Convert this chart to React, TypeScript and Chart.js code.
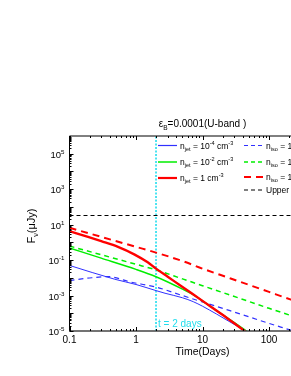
import React, { useEffect, useRef } from 'react';
import { Chart, registerables } from 'chart.js';

Chart.register(...registerables);

// ---------- data ----------
const X_MIN = 0.1;
const X_MAX = 1000;
const Y_MIN = 1e-5;
const Y_MAX = 1e6;

const xTickValues = [0.1, 1, 10, 100];
const xTickLabels = ['0.1', '1', '10', '100'];
const yTickExponents = [5, 3, 1, -1, -3, -5];

const redSolidT = [0.1, 0.19, 0.3, 0.536, 0.955, 1.5, 2, 3, 5, 10, 20, 43, 100];
const redSolidF = [4.3, 2.04, 1.17, 0.557, 0.205, 0.075, 0.033, 0.0115, 3.05e-3, 5.0e-4, 8.3e-5, 1.0e-5, 1.1e-6];

const redDashT = [0.1, 0.3, 1, 2, 5, 10, 25.9, 100, 219, 1000];
const redDashF = [6.6, 2.04, 0.56, 0.265, 0.088, 0.033, 9.5e-3, 1.6e-3, 5.7e-4, 7.9e-5];

const greenSolidT = [0.1, 0.3, 1, 2, 5, 7.3, 10.3, 13, 20, 46, 100];
const greenSolidF = [0.48, 0.129, 0.03, 0.0115, 2.3e-3, 1.08e-3, 4.6e-4, 2.5e-4, 8.5e-5, 1.0e-5, 1.2e-6];

const greenDashT = [0.1, 0.3, 1, 2, 5, 10, 25.9, 100, 219, 1000];
const greenDashF = [0.62, 0.2, 0.058, 0.028, 8.7e-3, 3.6e-3, 1.07e-3, 1.9e-4, 7.2e-5, 1.0e-5];

const blueSolidT = [0.1, 0.48, 1, 2, 2.73, 5, 7.27, 10, 16.3, 25, 43.6, 100];
const blueSolidF = [0.05, 8.3e-3, 4.2e-3, 1.9e-3, 1.35e-3, 7.5e-4, 4.5e-4, 2.5e-4, 9e-5, 3.5e-5, 1.05e-5, 1.5e-6];

const blueDashT = [0.1, 0.2, 0.38, 0.86, 2, 5, 10.9, 25.9, 100, 219, 1000];
const blueDashF = [7e-3, 9.8e-3, 0.0117, 5.6e-3, 3.0e-3, 1.0e-3, 3.9e-4, 1.4e-4, 2.7e-5, 1.07e-5, 1.7e-6];

const upperLimit = 32.7;
const markerDay = 2;

const titleText = '\u03b5_{B}=0.0001(U-band )';
const xTitleText = 'Time(Days)';
const yTitleText = 'F_{\u03bd}(\u03bcJy)';
const markerText = 't = 2 days';

const RED = '#ff0000';
const GREEN = '#00ee00';
const BLUE = '#3030ff';
const CYAN = '#22dded';

const legendLeft = [
  { label: 'n_{jet} = 10^{-4} cm^{-3}', color: BLUE, dash: [] as number[], width: 1.2 },
  { label: 'n_{jet} = 10^{-2} cm^{-3}', color: GREEN, dash: [] as number[], width: 1.5 },
  { label: 'n_{jet} = 1 cm^{-3}', color: RED, dash: [] as number[], width: 2.2 },
];
const legendRight = [
  { label: 'n_{iso} = 10^{-4} cm^{-3}', color: BLUE, dash: [4, 3], width: 1.2 },
  { label: 'n_{iso} = 10^{-2} cm^{-3}', color: GREEN, dash: [4, 3], width: 1.5 },
  { label: 'n_{iso} = 1 cm^{-3}', color: RED, dash: [7, 5], width: 2 },
  { label: 'Upper limit', color: '#000000', dash: [4, 3], width: 1.2 },
];

// ---------- layout ----------
const CANVAS_W = 350;
const CANVAS_H = 376;
const AREA = { left: 69.5, right: 335.5, top: 136, bottom: 331 };
const FONT = '"Liberation Sans", Arial, sans-serif';

type Seg = { t: string; m: 'n' | 'sub' | 'sup' };
function parseRich(s: string): Seg[] {
  const out: Seg[] = [];
  const re = /([_^])\{([^}]*)\}/g;
  let last = 0;
  let m: RegExpExecArray | null;
  while ((m = re.exec(s))) {
    if (m.index > last) out.push({ t: s.slice(last, m.index), m: 'n' });
    out.push({ t: m[2], m: m[1] === '_' ? 'sub' : 'sup' });
    last = re.lastIndex;
  }
  if (last < s.length) out.push({ t: s.slice(last), m: 'n' });
  return out;
}

function richWidth(ctx: CanvasRenderingContext2D, segs: Seg[], size: number) {
  let w = 0;
  for (const s of segs) {
    const fs = s.m === 'n' ? size : size * 0.65;
    ctx.font = `${fs}px ${FONT}`;
    w += ctx.measureText(s.t).width;
  }
  return w;
}

function drawRich(ctx: CanvasRenderingContext2D, x: number, y: number, segs: Seg[], size: number, color: string) {
  let cx = x;
  ctx.fillStyle = color;
  ctx.textBaseline = 'alphabetic';
  ctx.textAlign = 'left';
  for (const s of segs) {
    const fs = s.m === 'n' ? size : size * 0.65;
    const dy = s.m === 'sub' ? size * 0.28 : s.m === 'sup' ? -size * 0.42 : 0;
    ctx.font = `${fs}px ${FONT}`;
    ctx.fillText(s.t, cx, y + dy);
    cx += ctx.measureText(s.t).width;
  }
  return cx - x;
}

const decorPlugin = {
  id: 'decor',
  afterDraw(chart: any) {
    const ctx: CanvasRenderingContext2D = chart.ctx;
    const xs = chart.scales.x;
    const ys = chart.scales.y;
    const { left, right, top, bottom } = chart.chartArea;
    ctx.save();

    // frame
    ctx.strokeStyle = '#000';
    ctx.lineWidth = 1;
    ctx.setLineDash([]);
    ctx.beginPath();
    ctx.moveTo(left, top);
    ctx.lineTo(right, top);
    ctx.moveTo(left, top);
    ctx.lineTo(left, bottom);
    ctx.stroke();
    ctx.strokeStyle = '#444';
    ctx.lineWidth = 1.3;
    ctx.beginPath();
    ctx.moveTo(left, bottom);
    ctx.lineTo(right, bottom);
    ctx.stroke();

    // x ticks (bottom + top, inward)
    ctx.strokeStyle = '#000';
    ctx.lineWidth = 1;
    ctx.beginPath();
    for (let d = -1; d < 3; d++) {
      for (let k = 1; k <= 9; k++) {
        const v = k * Math.pow(10, d);
        if (v < X_MIN || v > X_MAX) continue;
        const px = Math.round(xs.getPixelForValue(v)) + 0.5;
        const len = k === 1 ? 4 : 2;
        ctx.moveTo(px, bottom);
        ctx.lineTo(px, bottom - len);
        ctx.moveTo(px, top);
        ctx.lineTo(px, top + len);
      }
    }
    // y ticks (left, inward)
    for (let d = -5; d < 6; d++) {
      for (let k = 1; k <= 9; k++) {
        const v = k * Math.pow(10, d);
        if (v < Y_MIN || v > Y_MAX) continue;
        const py = Math.round(ys.getPixelForValue(v)) + 0.5;
        const len = k === 1 ? 4 : 2;
        ctx.moveTo(left, py);
        ctx.lineTo(left + len, py);
      }
    }
    ctx.stroke();

    // x tick labels
    ctx.fillStyle = '#000';
    ctx.font = `10px ${FONT}`;
    ctx.textAlign = 'center';
    ctx.textBaseline = 'top';
    xTickValues.forEach((v, i) => {
      ctx.fillText(xTickLabels[i], xs.getPixelForValue(v), bottom + 4);
    });

    // y tick labels
    yTickExponents.forEach((e) => {
      const py = ys.getPixelForValue(Math.pow(10, e));
      const segs: Seg[] = [{ t: '10', m: 'n' }, { t: String(e), m: 'sup' }];
      const w = richWidth(ctx, segs, 9.5);
      drawRich(ctx, left - 5 - w, py + 4, segs, 9.5, '#000');
    });

    // title
    const tSegs = parseRich(titleText);
    const tw = richWidth(ctx, tSegs, 10);
    drawRich(ctx, (left + right) / 2 - tw / 2, 127, tSegs, 10, '#000');

    // x title
    ctx.font = `10.5px ${FONT}`;
    ctx.fillStyle = '#000';
    ctx.textAlign = 'center';
    ctx.textBaseline = 'middle';
    ctx.fillText(xTitleText, (left + right) / 2, 352);

    // y title
    ctx.save();
    ctx.translate(35, 226);
    ctx.rotate(-Math.PI / 2);
    const ySegs = parseRich(yTitleText);
    const yw = richWidth(ctx, ySegs, 11);
    drawRich(ctx, -yw / 2, 0, ySegs, 11, '#000');
    ctx.restore();

    // marker text
    ctx.font = `10px ${FONT}`;
    ctx.fillStyle = CYAN;
    ctx.textAlign = 'left';
    ctx.textBaseline = 'alphabetic';
    ctx.fillText(markerText, xs.getPixelForValue(markerDay) + 2, 327);

    // legend
    const drawCol = (items: typeof legendLeft, x0: number, rows: number[]) => {
      items.forEach((it, i) => {
        const y = rows[i];
        ctx.save();
        ctx.strokeStyle = it.color;
        ctx.lineWidth = it.width;
        ctx.setLineDash(it.dash);
        ctx.beginPath();
        ctx.moveTo(x0, y);
        ctx.lineTo(x0 + 19, y);
        ctx.stroke();
        ctx.restore();
        drawRich(ctx, x0 + 22, y + 3, parseRich(it.label), 8.5, '#000');
      });
    };
    drawCol(legendLeft, 158, [145.5, 162, 178]);
    drawCol(legendRight, 244, [145.5, 162, 177, 190]);

    ctx.restore();
  },
};

function pts(t: number[], f: number[]) {
  return t.map((x, i) => ({ x, y: f[i] }));
}

export default function App() {
  const ref = useRef<HTMLCanvasElement | null>(null);
  useEffect(() => {
    if (!ref.current) return;
    const smooth = { cubicInterpolationMode: 'monotone' as const, pointRadius: 0, fill: false };
    const chart = new Chart(ref.current, {
      type: 'line',
      data: {
        datasets: [
          { data: pts(redSolidT, redSolidF), borderColor: RED, borderWidth: 2.4, ...smooth },
          { data: pts(redDashT, redDashF), borderColor: RED, borderWidth: 2, borderDash: [7, 5], ...smooth },
          { data: pts(greenSolidT, greenSolidF), borderColor: GREEN, borderWidth: 1.5, ...smooth },
          { data: pts(greenDashT, greenDashF), borderColor: GREEN, borderWidth: 1.5, borderDash: [5, 4], ...smooth },
          { data: pts(blueSolidT, blueSolidF), borderColor: BLUE, borderWidth: 1, ...smooth },
          { data: pts(blueDashT, blueDashF), borderColor: BLUE, borderWidth: 1.2, borderDash: [5, 4], ...smooth },
          {
            data: [{ x: X_MIN, y: upperLimit }, { x: X_MAX, y: upperLimit }],
            borderColor: '#000', borderWidth: 1.2, borderDash: [4, 3], pointRadius: 0, tension: 0, fill: false,
          },
          {
            data: [{ x: markerDay, y: Y_MIN }, { x: markerDay, y: Y_MAX }],
            borderColor: CYAN, borderWidth: 1.6, borderDash: [2, 1.5], pointRadius: 0, tension: 0, fill: false,
          },
        ] as any,
      },
      options: {
        animation: false,
        responsive: false,
        events: [],
        layout: {
          padding: {
            left: AREA.left,
            right: CANVAS_W - AREA.right,
            top: AREA.top,
            bottom: CANVAS_H - AREA.bottom,
          },
        },
        plugins: { legend: { display: false }, tooltip: { enabled: false }, title: { display: false } },
        scales: {
          x: { type: 'logarithmic', min: X_MIN, max: X_MAX, display: false },
          y: { type: 'logarithmic', min: Y_MIN, max: Y_MAX, display: false },
        },
      } as any,
      plugins: [decorPlugin],
    });
    return () => chart.destroy();
  }, []);

  return (
    <div style={{ position: 'fixed', left: 0, top: 0, width: 291, height: 376, overflow: 'hidden', background: '#fff' }}>
      <canvas ref={ref} width={CANVAS_W} height={CANVAS_H} style={{ width: CANVAS_W, height: CANVAS_H, display: 'block' }} />
    </div>
  );
}
